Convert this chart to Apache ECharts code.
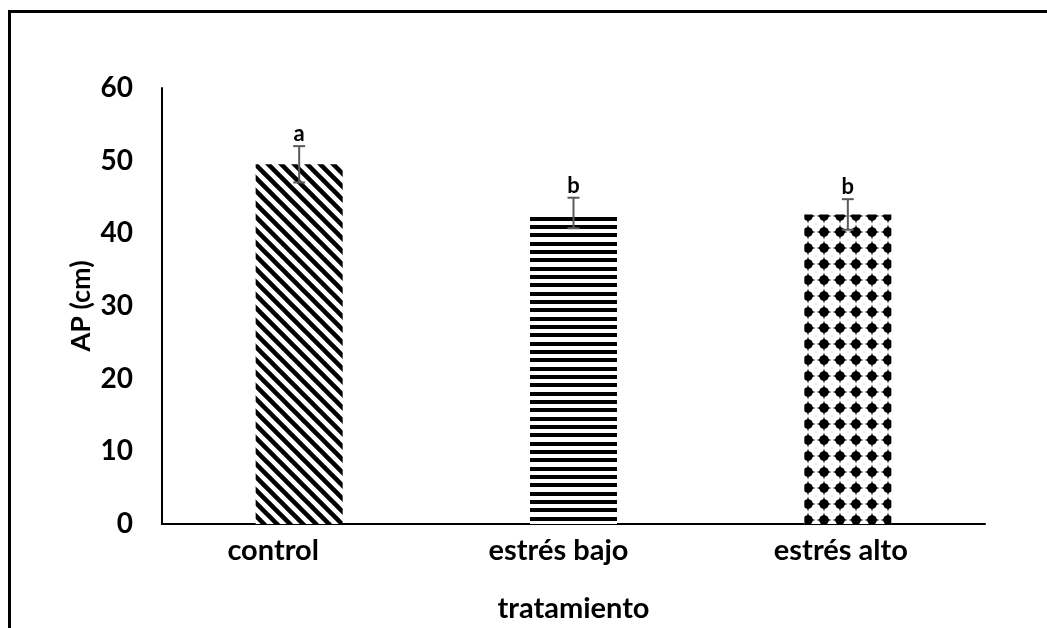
<!DOCTYPE html>
<html>
<head>
<meta charset="utf-8">
<script src="https://cdn.jsdelivr.net/npm/echarts@6/dist/echarts.min.js"></script>
<style>
  html, body { margin: 0; padding: 0; background: #fff; }
  #chart { width: 1047px; height: 628px; }
</style>
</head>
<body>
<div id="chart"></div>
<script>
// Plant height (AP, cm) by treatment, with error bars and significance letters
const categories = ['control', 'estrés bajo', 'estrés alto'];
const means = [49.5, 42.8, 42.6];
const errors = [2.5, 2.1, 2.1];
const letters = ['a', 'b', 'b'];
const yTicks = [0, 10, 20, 30, 40, 50, 60];

const FONT = 'Lato';

// ---- fill patterns ----
function makeCanvas(w, h) {
  const c = document.createElement('canvas');
  c.width = w; c.height = h;
  return c;
}
function diagonalPattern() {
  const s = 13;
  const c = makeCanvas(s, s);
  const g = c.getContext('2d');
  g.fillStyle = '#fff'; g.fillRect(0, 0, s, s);
  g.strokeStyle = '#000'; g.lineWidth = 4.5;
  for (const x0 of [-s, 0, s]) {
    g.beginPath(); g.moveTo(x0 - 2, -2); g.lineTo(x0 + s + 2, s + 2); g.stroke();
  }
  return c;
}
function horizontalPattern() {
  const c = makeCanvas(8, 25);
  const g = c.getContext('2d');
  g.fillStyle = '#fff'; g.fillRect(0, 0, 8, 25);
  g.fillStyle = '#000';
  [0, 8, 17].forEach(y => g.fillRect(0, y, 8, 4));
  return c;
}
function dotPattern() {
  const s = 16;
  const c = makeCanvas(s, s);
  const g = c.getContext('2d');
  g.fillStyle = '#fff'; g.fillRect(0, 0, s, s);
  g.fillStyle = '#000';
  const cx = s / 2, cy = s / 2;
  g.beginPath(); g.arc(cx, cy, 4.8, 0, Math.PI * 2); g.fill();
  g.beginPath();
  g.moveTo(cx, cy - 7.5); g.lineTo(cx + 2.2, cy); g.lineTo(cx, cy + 7.5); g.lineTo(cx - 2.2, cy); g.closePath(); g.fill();
  g.beginPath();
  g.moveTo(cx - 7.5, cy); g.lineTo(cx, cy - 2.2); g.lineTo(cx + 7.5, cy); g.lineTo(cx, cy + 2.2); g.closePath(); g.fill();
  return c;
}
const patterns = [diagonalPattern(), horizontalPattern(), dotPattern()];

// category labels sit slightly left of their bars
const labelShift = [52, 30, 14];

const chart = echarts.init(document.getElementById('chart'), null, { renderer: 'canvas' });

const textStyle = { fontFamily: FONT, fontWeight: 'bold', color: '#000' };

const rich = {};
labelShift.forEach((p, i) => {
  rich['c' + i] = { fontFamily: FONT, fontWeight: 'bold', fontSize: 29, color: '#000', padding: [0, p, 0, 0] };
});

chart.setOption({
  animation: false,
  backgroundColor: '#fff',
  grid: { left: 162, right: 62, top: 88, bottom: 104, containLabel: false },
  graphic: [{
    type: 'polyline',
    shape: { points: [[9.5, 640], [9.5, 11.5], [1060, 11.5]] },
    style: { stroke: '#000', lineWidth: 3, fill: null },
    silent: true
  }],
  xAxis: {
    type: 'category',
    data: categories,
    name: 'tratamiento',
    nameLocation: 'middle',
    nameGap: 70,
    nameMoveOverlap: false,
    nameTextStyle: Object.assign({ fontSize: 29 }, textStyle),
    axisLine: { lineStyle: { color: '#000', width: 2 } },
    axisTick: { show: false },
    axisLabel: Object.assign({ fontSize: 29, margin: 12,
      formatter: (v, i) => '{c' + i + '|' + v + '}', rich: rich }, textStyle)
  },
  yAxis: {
    type: 'value',
    min: 0, max: 60, interval: 10,
    name: 'AP (cm)',
    nameLocation: 'middle',
    nameGap: 67,
    nameMoveOverlap: false,
    nameTextStyle: Object.assign({ fontSize: 27 }, textStyle),
    axisLine: { show: true, lineStyle: { color: '#000', width: 2 } },
    axisTick: { show: false },
    splitLine: { show: false },
    axisLabel: Object.assign({ fontSize: 28, margin: 29,
      formatter: v => (yTicks.indexOf(v) >= 0 ? String(v) : '') }, textStyle)
  },
  series: [{
    type: 'bar',
    barWidth: 87,
    data: means.map((v, i) => ({
      value: v,
      itemStyle: { color: { image: patterns[i], repeat: 'repeat' } }
    }))
  }, {
    type: 'custom',
    data: means.map((v, i) => [i, v, errors[i]]),
    z: 5,
    renderItem: function (params, api) {
      const x = api.value(0);
      const m = api.value(1);
      const e = api.value(2);
      const top = api.coord([x, m + e]);
      const bot = api.coord([x, m - e]);
      const half = 6;
      const st = { stroke: '#5a5a5a', lineWidth: 2 };
      return {
        type: 'group',
        children: [
          { type: 'line', shape: { x1: top[0], y1: top[1], x2: bot[0], y2: bot[1] }, style: st },
          { type: 'line', shape: { x1: top[0] - half, y1: top[1], x2: top[0] + half, y2: top[1] }, style: st },
          { type: 'line', shape: { x1: bot[0] - half, y1: bot[1], x2: bot[0] + half, y2: bot[1] }, style: st },
          { type: 'text', style: {
              text: letters[params.dataIndex], x: top[0], y: top[1] - 1,
              align: 'center', verticalAlign: 'bottom',
              font: 'bold 22px ' + FONT, fill: '#000' } }
        ]
      };
    }
  }]
});
</script>
</body>
</html>
